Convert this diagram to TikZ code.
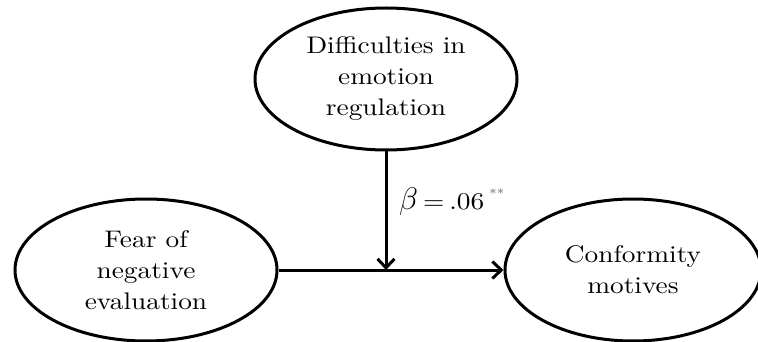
\documentclass[tikz,border=0pt]{standalone}
\usepackage{fontspec}
\setmainfont{lmroman10-regular}[Extension=.otf,FakeStretch=1.14]
\usetikzlibrary{shapes.geometric,arrows.meta}
\begin{document}
\begin{tikzpicture}[x=1pt,y=-1pt,
  var/.style={draw,ellipse,line width=3pt,minimum width=262pt,minimum height=142pt,inner sep=0pt,
    align=center,font=\fontsize{24}{31}\selectfont},
  path/.style={line width=3pt,-{Straight Barb[length=9pt,width=17pt,line width=3pt]}}]
\useasboundingbox (0,0) rectangle (758,342);
\node[var] (D) at (386,79) {Difficulties in\\emotion\\regulation};
\node[var] (F) at (146,270) {Fear of\\negative\\evaluation};
\node[var,minimum width=256pt] (C) at (633,270) {Conformity\\motives};
\draw[path] (F.east) -- (C.west);
\coordinate (Mid) at (D.south |- F.east);
\draw[path] (D.south) -- (Mid);
\node[anchor=base west,inner sep=0pt,font=\fontsize{24}{28}\selectfont] (B) at (399,209) {\scalebox{1.25}{$\beta$}\hspace{5pt}=\hspace{5pt}.06\hspace{5pt}\raisebox{0.45em}{\fontsize{13}{13}\selectfont\color{black!65}**}};
\end{tikzpicture}
\end{document}
